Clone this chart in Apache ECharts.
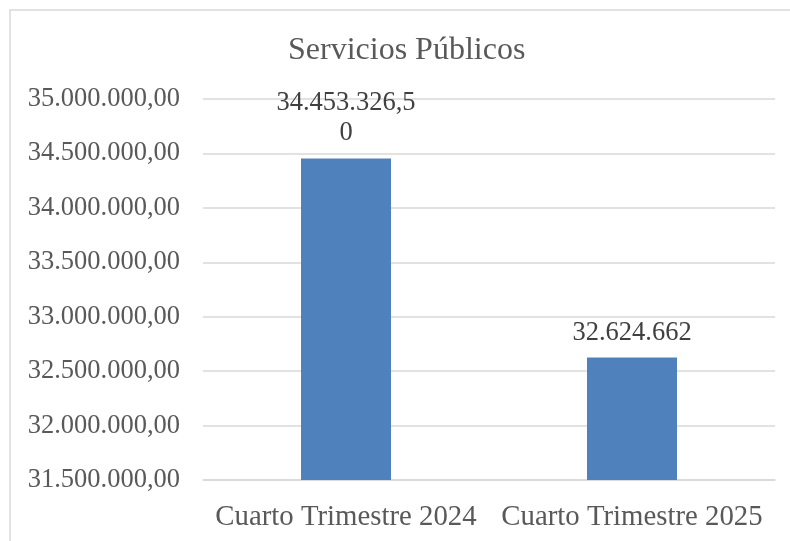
<!DOCTYPE html>
<html>
<head>
<meta charset="utf-8">
<script src="https://cdn.jsdelivr.net/npm/echarts@6/dist/echarts.min.js"></script>
<style>html,body{margin:0;padding:0;background:#fff}#c{width:790px;height:541px}</style>
</head>
<body>
<div id="c"></div>
<script>
const title = "Servicios Públicos";
const categories = ["Cuarto Trimestre 2024", "Cuarto Trimestre 2025"];
const values = [34453326.5, 32624662];
const valueLabels = ["34.453.326,5\n0", "32.624.662"];
const yMin = 31500000, yMax = 35000000, yStep = 500000;

function fmtY(v) {
  const s = Math.round(v).toString().replace(/\B(?=(\d{3})+(?!\d))/g, ".");
  return s + ",00";
}
const FF = "'Liberation Serif','Times New Roman',serif";
const chart = echarts.init(document.getElementById('c'));
chart.setOption({
  animation: false,
  backgroundColor: '#fff',
  graphic: [{
    type: 'rect', shape: { x: 10, y: 10, width: 820, height: 600 },
    style: { fill: 'none', stroke: '#d9d9d9', lineWidth: 1.5 }, silent: true, z: -1
  }],
  title: {
    text: title, left: 283, top: 30,
    textStyle: { fontFamily: FF, fontSize: 32, fontWeight: 'normal', color: '#595959' }
  },
  grid: { left: 203, right: 15, top: 99, bottom: 61 },
  xAxis: {
    type: 'category', data: categories,
    axisLine: { show: true, lineStyle: { color: '#d9d9d9', width: 1.5 } },
    axisTick: { show: false },
    axisLabel: { fontFamily: FF, fontSize: 28.8, color: '#595959', margin: 23, interval: 0 }
  },
  yAxis: {
    type: 'value', min: yMin, max: yMax, interval: yStep,
    axisLine: { show: false }, axisTick: { show: false },
    splitLine: { lineStyle: { color: '#d9d9d9', width: 1.5 } },
    axisLabel: { fontFamily: FF, fontSize: 26.5, color: '#595959', margin: 23, formatter: fmtY }
  },
  series: [{
    type: 'bar', data: values, barWidth: 90,
    itemStyle: { color: '#4f81bd' },
    label: {
      show: true, position: 'top', distance: 10,
      fontFamily: FF, fontSize: 26.5, lineHeight: 30, color: '#404040', align: 'center',
      formatter: p => valueLabels[p.dataIndex]
    }
  }]
});
</script>
</body>
</html>
